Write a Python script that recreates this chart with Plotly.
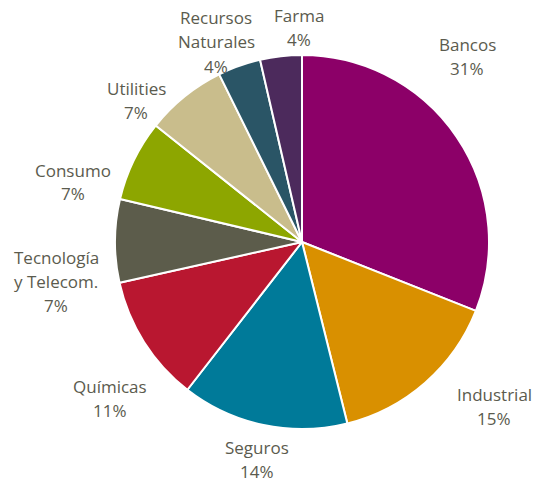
import plotly.graph_objects as go

# ---- data ----
categories = ["Bancos", "Industrial", "Seguros", "Químicas", "Tecnología<br>y Telecom.",
              "Consumo", "Utilities", "Recursos<br>Naturales", "Farma"]
values = [31.0, 15.1, 14.4, 11.0, 7.2, 7.0, 7.0, 3.7, 3.6]

# ---- styles ----
colors = ["#8C0068", "#D99000", "#007A99", "#B91730", "#5C5C4B",
          "#8DA600", "#C9BD8C", "#2A5566", "#4C2A5C"]
W, H = 534, 483
CX, CY, R = 302, 242, 187
LINE = 24
# label block centres (pixels) – layout only
label_pos = [(467, 57), (494, 406), (257, 459), (110, 398), (56, 281),
             (73, 182), (136, 101), (216, 42), (299, 28)]
text_color = "#5b5b4e"

fig = go.Figure(go.Pie(
    labels=[c.replace("<br>", " ") for c in categories],
    values=values,
    sort=False,
    direction="clockwise",
    rotation=0,
    marker=dict(colors=colors, line=dict(color="white", width=2)),
    textinfo="none",
    hoverinfo="label+percent",
    showlegend=False,
    domain=dict(x=[(CX - R) / W, (CX + R) / W], y=[1 - (CY + R) / H, 1 - (CY - R) / H]),
))

total = sum(values)
for cat, v, (px, py) in zip(categories, values, label_pos):
    lines = cat.split("<br>") + [f"{round(100 * v / total)}%"]
    n = len(lines)
    for i, ln in enumerate(lines):
        ly = py + (i - (n - 1) / 2) * LINE
        fig.add_annotation(
            x=px / W, y=1 - ly / H, xref="paper", yref="paper",
            text=ln, showarrow=False, xanchor="center", yanchor="middle",
            font=dict(family="Open Sans", size=17, color=text_color),
        )

fig.update_layout(
    width=W, height=H,
    margin=dict(l=0, r=0, t=0, b=0),
    paper_bgcolor="white", plot_bgcolor="white",
)

fig.write_html("out.html", config={"displayModeBar": False},
               post_script="document.body.style.margin='0';")
